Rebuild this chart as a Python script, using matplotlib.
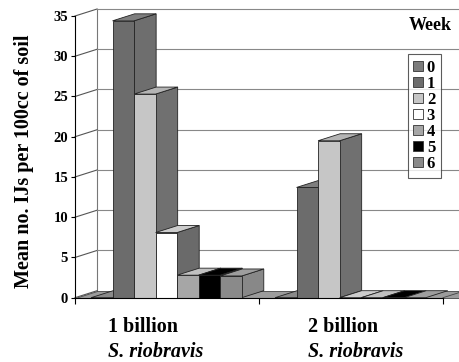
import matplotlib.pyplot as plt
from matplotlib.patches import Polygon, Patch

# mean IJs per 100cc of soil, one list per application rate
groups = ['1 billion', '2 billion']
species = 'S. riobravis'
weeks = ['0', '1', '2', '3', '4', '5', '6']
rate_1bn = [0, 34.4, 25.3, 8.1, 2.8, 2.8, 2.7]
rate_2bn = [0, 13.7, 19.5, 0, 0, 0, 0]
yticks = [0, 5, 10, 15, 20, 25, 30, 35]

front_col = ['#7c7c7c', '#6c6c6c', '#c6c6c6', '#ffffff', '#a6a6a6', '#000000', '#8a8a8a']
top_col = ['#8a8a8a', '#7e7e7e', '#b4b4b4', '#cccccc', '#c0c0c0', '#000000', '#9e9e9e']
side_col = ['#6c6c6c', '#6e6e6e', '#707070', '#6a6a6a', '#8c8c8c', '#1a1a1a', '#888888']

serif = 'Liberation Serif'
DX, DY = 0.12, 0.87      # oblique depth, in data units
BAR_W, BAR_OFF = 0.117, 0.087
EDGE = dict(edgecolor='#222222', linewidth=0.6, clip_on=False)

fig = plt.figure(figsize=(4.6, 3.62), dpi=100)
ax = fig.add_axes([75 / 460, 64.3 / 362, 368 / 460, 281.7 / 362])
ax.set_xlim(0, 2)
ax.set_ylim(0, 35)
ax.patch.set_visible(False)
for s in ['top', 'right']:
    ax.spines[s].set_visible(False)
for s in ['left', 'bottom']:
    ax.spines[s].set_linewidth(0.8)
    ax.spines[s].set_zorder(10)

# walls and floor
x_end = 2.3
ax.add_patch(Polygon([(0, 0), (DX, DY), (DX, 35 + DY), (0, 35)],
                     facecolor='white', edgecolor='none', clip_on=False, zorder=0))
ax.add_patch(Polygon([(0, 0), (x_end, 0), (x_end, DY), (DX, DY)],
                     facecolor='#9c9c9c', edgecolor='#444444', linewidth=0.6,
                     clip_on=False, zorder=1))
ax.plot([DX, DX], [DY, 35 + DY], color='#777777', lw=0.8, clip_on=False, zorder=0.5)
for v in yticks:
    ax.plot([0, DX], [v, v + DY], color='#555555', lw=0.8, clip_on=False, zorder=0.5)
    if v > 0:
        ax.plot([DX, x_end], [v + DY, v + DY], color='#888888', lw=0.8,
                clip_on=False, zorder=0.5)
ax.plot([2, 2 + DX * 2], [0, DY * 2], color='#444444', lw=0.6, clip_on=False, zorder=1.5)


def draw_bar(x, h, k, z):
    w = BAR_W
    if h > 0:
        ax.add_patch(Polygon([(x + w, 0), (x + w + DX, DY), (x + w + DX, h + DY), (x + w, h)],
                             facecolor=side_col[k], zorder=z, **EDGE))
    ax.add_patch(Polygon([(x, h), (x + w, h), (x + w + DX, h + DY), (x + DX, h + DY)],
                         facecolor=top_col[k], zorder=z, **EDGE))
    if h > 0:
        ax.bar(x, h, width=w, align='edge', color=front_col[k], zorder=z, **EDGE)


z = 2
for g, vals in enumerate([rate_1bn, rate_2bn]):
    for k, h in enumerate(vals):
        draw_bar(g + BAR_OFF + k * BAR_W, h, k, z)
        z += 0.1

ax.set_yticks(yticks)
ax.set_yticklabels([str(v) for v in yticks], fontfamily=serif, fontweight='bold', fontsize=10.5)
ax.set_xticks([0, 1, 2])
ax.set_xticklabels([])
ax.tick_params(axis='y', length=3, width=0.8, pad=2)
ax.tick_params(axis='x', length=4, width=0.8)

fig.text(24 / 460, 1 - 161 / 362, 'Mean no. IJs per 100cc of soil', rotation=90,
         ha='center', va='center', fontfamily=serif, fontweight='bold', fontsize=14.5)

label_x = [108, 308]
for g, name in enumerate(groups):
    fig.text(label_x[g] / 460, 1 - 327 / 362, name, ha='left', va='center',
             fontfamily=serif, fontweight='bold', fontsize=14.5)
    fig.text(label_x[g] / 460, 1 - 352 / 362, species, ha='left', va='center',
             fontfamily=serif, fontweight='bold', fontstyle='italic', fontsize=14.5)

fig.text(430 / 460, 1 - 25 / 362, 'Week', ha='center', va='center',
         fontfamily=serif, fontweight='bold', fontsize=13)

handles = [Patch(facecolor=front_col[k], edgecolor='#333333', linewidth=0.6)
           for k in range(len(weeks))]
leg = fig.legend(handles, weeks, loc='upper right', bbox_to_anchor=(441 / 460, 1 - 54 / 362),
                 prop=dict(family=serif, weight='bold', size=12), frameon=True,
                 fancybox=False, handlelength=0.55, handleheight=0.55, handletextpad=0.25,
                 labelspacing=0.0, borderpad=0.35, borderaxespad=0)
leg.get_frame().set_edgecolor('#333333')
leg.get_frame().set_linewidth(0.8)

fig.savefig('out.png', dpi=100)
